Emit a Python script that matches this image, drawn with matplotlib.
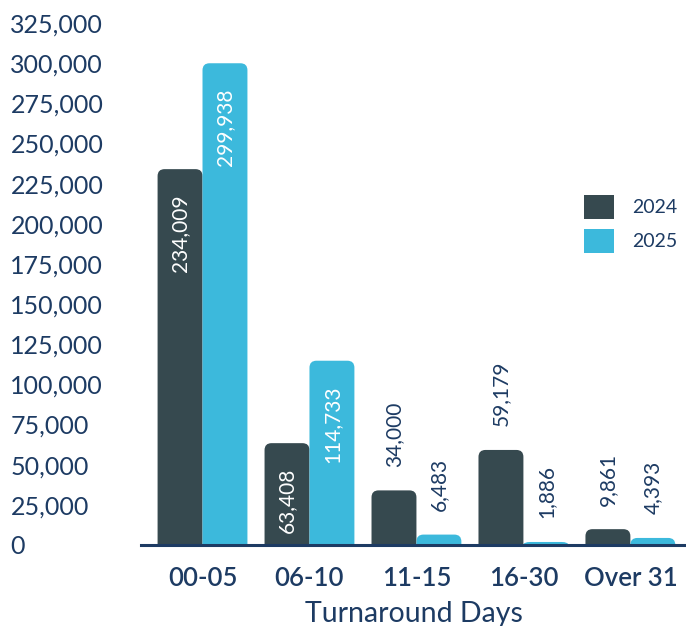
import matplotlib
matplotlib.use("Agg")
import matplotlib.pyplot as plt
from matplotlib.path import Path
from matplotlib.patches import PathPatch, Patch
from matplotlib.ticker import FuncFormatter
import numpy as np

plt.rcParams["font.family"] = ["Lato", "DejaVu Sans"]

categories = ["00-05", "06-10", "11-15", "16-30", "Over 31"]
years = ["2024", "2025"]
values_2024 = [234009, 63408, 34000, 59179, 9861]
values_2025 = [299938, 114733, 6483, 1886, 4393]

DARK = "#36494f"
CYAN = "#3cb9dc"
NAVY = "#1d3b63"

fig = plt.figure(figsize=(6.86, 6.26), dpi=100)
ax = fig.add_axes([141 / 686, 81 / 626, 545 / 686, 522 / 626])

x = np.arange(len(categories))
w = 0.42
ax.set_xlim(-0.575, 4.52)
ax.set_ylim(0, 325000)


def rounded_bars(bars, color, r_px=7):
    # swap each plain rectangle for one with rounded top corners
    fig.canvas.draw()
    to_px = ax.transData
    sx = to_px.transform((1, 0))[0] - to_px.transform((0, 0))[0]
    sy = to_px.transform((0, 1))[1] - to_px.transform((0, 0))[1]
    for b in bars:
        x0, y0 = b.get_x(), b.get_y()
        bw, bh = b.get_width(), b.get_height()
        rx = r_px / sx
        ry = min(r_px / sy, bh)
        verts = [
            (x0, y0), (x0, y0 + bh - ry),
            (x0, y0 + bh), (x0 + rx, y0 + bh),
            (x0 + bw - rx, y0 + bh),
            (x0 + bw, y0 + bh), (x0 + bw, y0 + bh - ry),
            (x0 + bw, y0), (x0, y0),
        ]
        codes = [Path.MOVETO, Path.LINETO, Path.CURVE3, Path.CURVE3, Path.LINETO,
                 Path.CURVE3, Path.CURVE3, Path.LINETO, Path.CLOSEPOLY]
        ax.add_patch(PathPatch(Path(verts, codes), facecolor=color, edgecolor="none", zorder=2))
        b.set_visible(False)


for vals, off, color in [(values_2024, -w / 2, DARK), (values_2025, w / 2, CYAN)]:
    bars = ax.bar(x + off, vals, width=w, color=color)
    rounded_bars(bars, color)
    for xi, v in zip(x + off, vals):
        label = f"{v:,}"
        if v > 60000:
            ax.annotate(label, (xi, v), xytext=(0, -18), textcoords="offset points",
                        rotation=90, ha="center", va="top", color="white", fontsize=15)
        else:
            ax.annotate(label, (xi, v), xytext=(0, 17), textcoords="offset points",
                        rotation=90, ha="center", va="bottom", color=NAVY, fontsize=15)

for s in ["top", "right", "left"]:
    ax.spines[s].set_visible(False)
ax.spines["bottom"].set_color(NAVY)
ax.spines["bottom"].set_linewidth(2.2)

ax.set_yticks(np.arange(0, 325001, 25000))
ax.yaxis.set_major_formatter(FuncFormatter(lambda v, p: f"{int(v):,}"))
ax.tick_params(axis="y", length=0, pad=94, labelsize=18, labelcolor=NAVY)
for t in ax.get_yticklabels():
    t.set_horizontalalignment("left")

ax.set_xticks(x)
ax.set_xticklabels(categories, fontweight="semibold")
ax.tick_params(axis="x", length=0, pad=15, labelsize=18.5, labelcolor=NAVY)
ax.set_xlabel("Turnaround Days", fontsize=20.5, color=NAVY, labelpad=7)

handles = [Patch(facecolor=DARK), Patch(facecolor=CYAN)]
fig.legend(handles, years, loc="center left", bbox_to_anchor=(584 / 686, 1 - 224 / 626),
           frameon=False, fontsize=14, labelcolor=NAVY, borderpad=0, borderaxespad=0,
           handlelength=1.55, handleheight=1.55, handletextpad=0.95, labelspacing=0.5)

fig.savefig("out.png", dpi=100)
